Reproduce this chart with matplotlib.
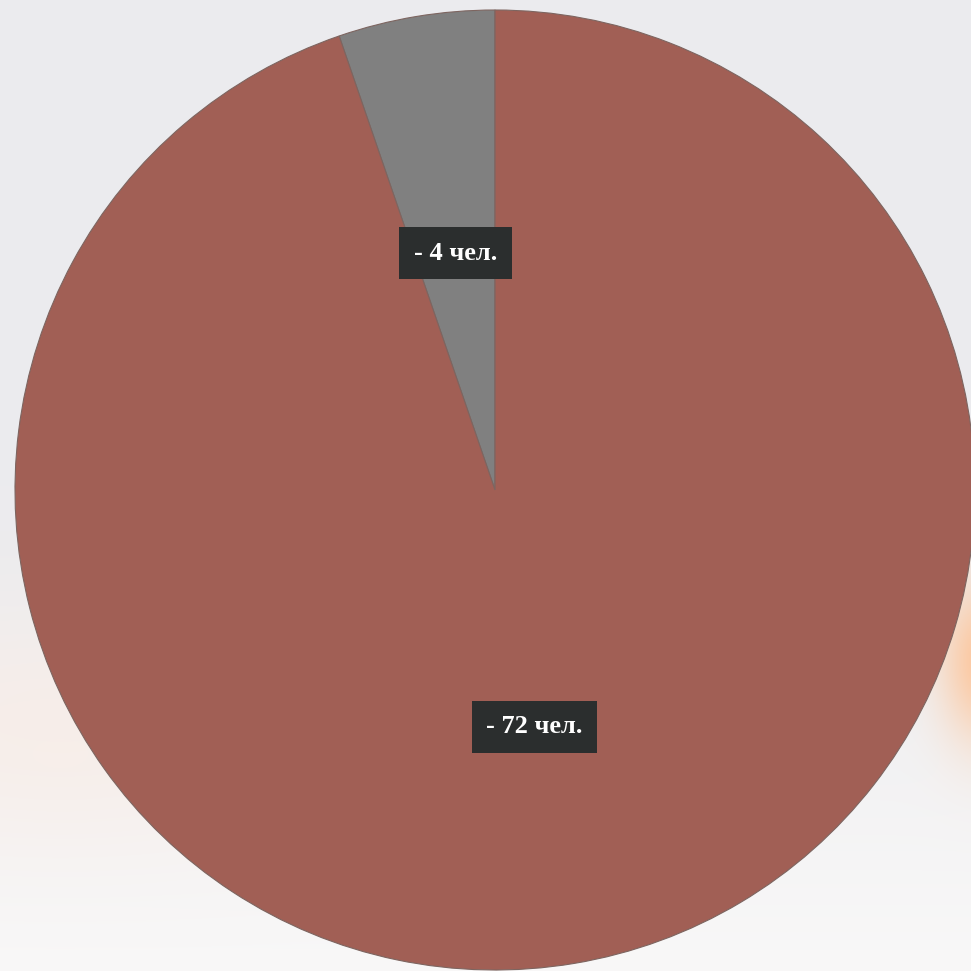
import numpy as np
import matplotlib.pyplot as plt

# данные
labels = ["- 4 чел.", "- 72 чел."]
counts = [4, 72]
colors = ["#808080", "#A15F55"]

W = H = 971
fig = plt.figure(figsize=(W / 100, H / 100), dpi=100)

# фон: светло-серый с оранжевым отсветом справа
bg = fig.add_axes([0, 0, 1, 1])
yy, xx = np.mgrid[0:H, 0:W]
base = np.ones((H, W, 3)) * np.array([0.925, 0.925, 0.935])
fade = np.clip((yy - 550) / 420, 0, 1)[..., None]
base = base * (1 - fade) + np.array([0.975, 0.972, 0.972]) * fade
glow = np.exp(-(((xx - 985) / 45) ** 2 + ((yy - 660) / 80) ** 2))[..., None]
base = base * (1 - glow) + np.array([0.99, 0.78, 0.62]) * glow
glow2 = np.exp(-(((xx - 60) / 260) ** 2 + ((yy - 730) / 120) ** 2))[..., None] * 0.5
base = base * (1 - glow2) + np.array([0.99, 0.92, 0.88]) * glow2
bg.imshow(base, extent=[0, W, H, 0], aspect="auto")
bg.axis("off")

ax = fig.add_axes([0, 0, 1, 1])
ax.patch.set_alpha(0)
cx, cy, r = 495, 490, 480
wedges, texts = ax.pie(counts, colors=colors, labels=labels, startangle=90,
                       counterclock=True, labeldistance=0.5, radius=1,
                       wedgeprops=dict(edgecolor="#7d6560", linewidth=0.8),
                       textprops=dict(color="white", fontsize=19, fontweight="bold",
                                      family="Liberation Serif"))
for t in texts:
    t.set_ha("center")
    t.set_va("center")
    t.set_bbox(dict(facecolor="#2B2E2E", edgecolor="none", boxstyle="square,pad=0.55"))

ax.set_xlim(-cx / r, (W - cx) / r)
ax.set_ylim(-(H - cy) / r, cy / r)
ax.set_aspect("auto")
ax.axis("off")

fig.savefig("out.png", dpi=100)
